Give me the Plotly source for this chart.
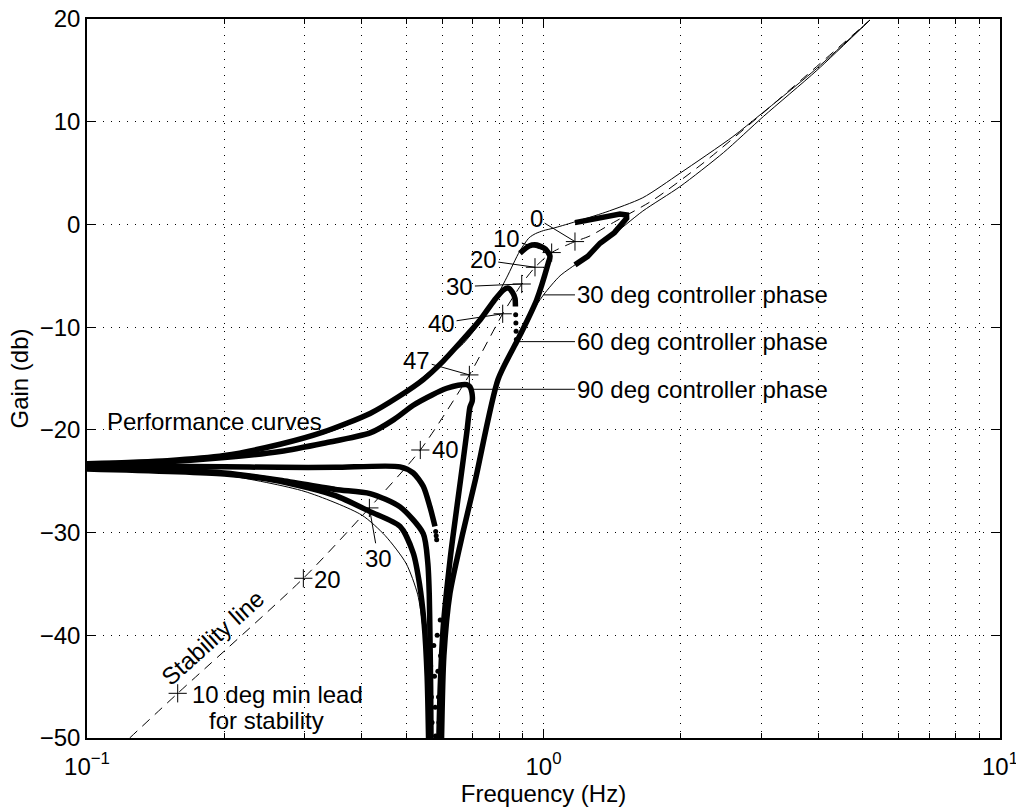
import math
import plotly.graph_objects as go

# ---------------- data (frequency in Hz, gain in dB) ----------------
thin_upper_f = [0.1, 0.15, 0.2, 0.25, 0.3, 0.35, 0.4, 0.45, 0.5, 0.55, 0.6, 0.667, 0.72, 0.77, 0.83, 0.887, 0.93, 0.96, 1.0, 1.05, 1.162, 1.37, 1.65, 1.99, 2.6, 2.98, 3.97, 5.19]
thin_upper_g = [-23.2, -22.9, -22.4, -21.7, -20.9, -20.0, -18.9, -17.6, -16.2, -14.7, -13.3, -11.6, -9.8, -7.9, -5.2, -2.6, -1.3, -0.9, -0.6, -0.37, 0.2, 1.2, 2.6, 4.98, 8.55, 10.66, 15.2, 19.9]

thin_lower_left_f = [0.1, 0.2, 0.3, 0.4, 0.45, 0.5, 0.53, 0.545, 0.553, 0.558]
thin_lower_left_g = [-23.4, -24.4, -26.0, -28.3, -30.3, -33.0, -36.0, -39.5, -44.0, -50.0]

thin_lower_right_f = [5.19, 3.97, 3.03, 2.48, 1.99, 1.65, 1.39, 1.293, 1.2, 1.087, 1.0, 0.93, 0.874]
thin_lower_right_g = [19.9, 15.0, 10.5, 7.0, 3.68, 1.3, -1.35, -2.3, -3.6, -5.0, -6.86, -9.0, -11.4]

stab_f = [0.124, 0.158, 0.2978, 0.4155, 0.5372, 0.688, 0.814, 0.896, 0.958, 1.042, 1.172, 1.264, 1.422, 1.74, 2.236, 3.026, 5.19]
stab_g = [-50.0, -45.65, -34.45, -27.6, -21.96, -14.65, -8.7, -5.8, -4.17, -2.74, -1.67, -1.12, 0.18, 2.39, 5.96, 10.85, 19.9]

mark_f = [0.158, 0.2978, 0.4155, 0.5372, 0.688, 0.814, 0.896, 0.958, 1.042, 1.172]
mark_g = [-45.65, -34.45, -27.6, -21.96, -14.65, -8.7, -5.8, -4.17, -2.74, -1.67]

# thick performance curves
c60_f = [0.1, 0.15, 0.2, 0.2648, 0.33, 0.417, 0.48, 0.5452, 0.6, 0.66, 0.726, 0.78, 0.817, 0.838, 0.855, 0.866, 0.868]
c60_g = [-23.3, -23.0, -22.5, -21.4, -20.2, -18.4, -16.8, -15.1, -13.4, -11.4, -9.3, -7.4, -6.38, -6.2, -6.6, -7.2, -8.0]
c60_tail_f = [0.869, 0.870, 0.871, 0.872]
c60_tail_g = [-8.8, -9.6, -10.4, -11.2]

c90_f = [0.1, 0.15, 0.2, 0.2648, 0.33, 0.417, 0.47, 0.5185, 0.57, 0.614, 0.65, 0.679, 0.69, 0.697, 0.698, 0.69, 0.679, 0.658, 0.635, 0.624, 0.603, 0.594, 0.59]
c90_g = [-23.35, -23.1, -22.7, -22.1, -21.3, -20.3, -19.0, -17.6, -16.6, -15.95, -15.65, -15.6, -15.8, -16.4, -17.2, -17.8, -20.3, -24.9, -30.0, -32.7, -39.2, -45.0, -50.0]

c30_f = [0.888, 0.93, 0.968, 1.01, 1.033, 1.024, 0.966, 0.896, 0.874, 0.795, 0.709, 0.666, 0.624, 0.605, 0.598]
c30_g = [-2.8, -2.1, -2.0, -2.4, -3.1, -3.78, -7.35, -10.45, -11.4, -15.1, -24.9, -30.0, -35.9, -42.0, -50.0]

c0_f = [1.172, 1.33, 1.47, 1.52, 1.521, 1.43, 1.33, 1.25, 1.172]
c0_g = [0.18, 0.6, 1.02, 0.92, 0.6, -0.8, -1.83, -3.1, -3.94]

flat_f = [0.1, 0.2, 0.2648, 0.35, 0.485, 0.5185, 0.5452, 0.564, 0.5785]
flat_g = [-23.5, -23.6, -23.65, -23.65, -23.6, -24.2, -25.5, -27.5, -29.4]
flat_tail_f = [0.5805, 0.582, 0.5834]
flat_tail_g = [-29.9, -30.3, -30.7]

low1_f = [0.1, 0.2, 0.2648, 0.35, 0.417, 0.485, 0.5452, 0.558, 0.562, 0.564, 0.566, 0.567]
low1_g = [-23.6, -24.2, -24.9, -25.8, -26.2, -27.5, -30.1, -33.0, -36.0, -40.0, -45.0, -50.0]

low2_f = [0.1, 0.2, 0.2648, 0.35, 0.417, 0.485, 0.5185, 0.535, 0.548, 0.556, 0.56]
low2_g = [-23.8, -24.3, -25.0, -26.4, -27.96, -29.4, -32.0, -35.0, -39.0, -44.0, -50.0]

dip_f = [0.556, 0.558, 0.560, 0.561, 0.566, 0.568, 0.570, 0.575, 0.577, 0.579, 0.580, 0.585, 0.587, 0.589, 0.590, 0.594, 0.595, 0.596, 0.597]
dip_g = [-42.0, -44.5, -47.0, -49.5, -43.0, -46.0, -48.5, -41.0, -44.0, -47.0, -49.8, -40.0, -43.5, -46.0, -48.5, -38.5, -42.0, -45.0, -49.0]

# marker labels: (text, text_f, text_g, marker_f, marker_g)
lead_labels = [
    ("0", 0.966, 0.6, 1.172, -1.67),
    ("10", 0.831, -1.34, 1.042, -2.74),
    ("20", 0.738, -3.46, 0.958, -4.17),
    ("30", 0.656, -6.06, 0.896, -5.8),
    ("40", 0.598, -9.6, 0.814, -8.7),
    ("47", 0.5275, -13.2, 0.688, -14.65),
    ("30", 0.4346, -32.5, 0.4155, -27.6),
]
plain_labels = [
    ("40", 0.611, -21.96),
    ("20", 0.3363, -34.6),
]
phase_labels = ["30 deg controller phase", "60 deg controller phase", "90 deg controller phase"]
phase_text_f = [1.172, 1.172, 1.172]
phase_tip_f = [1.0, 0.874, 0.690]
phase_g = [-6.86, -11.41, -16.05]

x_tick_vals = [0.1, 1, 10]
x_tick_text = ["10<sup>\u22121</sup>", "10<sup>0</sup>", "10<sup>1</sup>"]

FONT = "Liberation Sans, Arial, Helvetica, sans-serif"
FS = 24

fig = go.Figure()

def line(f, g, w, dash=None, shape="spline"):
    fig.add_trace(go.Scatter(x=f, y=g, mode="lines", showlegend=False, hoverinfo="skip",
                             line=dict(color="black", width=w, dash=dash, shape=shape,
                                       smoothing=0.7 if shape == "spline" else None)))

def dots(f, g, s):
    fig.add_trace(go.Scatter(x=f, y=g, mode="markers", showlegend=False, hoverinfo="skip",
                             marker=dict(color="black", size=s)))

line(thin_upper_f, thin_upper_g, 1)
line(thin_lower_left_f, thin_lower_left_g, 1)
line(thin_lower_right_f, thin_lower_right_g, 1)
line(stab_f, stab_g, 1, dash="10px,7px")

for f, g in [(c60_f, c60_g), (c90_f, c90_g), (c30_f, c30_g),
             (flat_f, flat_g), (low1_f, low1_g), (low2_f, low2_g)]:
    line(f, g, 5.5)
line(c0_f, c0_g, 5.5, shape="linear")
dots(c60_tail_f, c60_tail_g, 5)
dots(flat_tail_f, flat_tail_g, 5)
dots(dip_f, dip_g, 5)

fig.add_trace(go.Scatter(x=mark_f, y=mark_g, mode="markers", showlegend=False, hoverinfo="skip",
                         marker=dict(symbol="cross-thin", size=13, line=dict(color="black", width=1))))

tfont = dict(family=FONT, size=FS, color="black")
ann = []
for txt, tf, tg, mf, mg in lead_labels:
    ann.append(dict(text=txt, x=math.log10(mf), y=mg, ax=math.log10(tf), ay=tg,
                    axref="x", ayref="y", xref="x", yref="y", showarrow=True,
                    arrowhead=0, arrowwidth=1, arrowcolor="black", standoff=0, font=tfont))
for txt, tf, tg in plain_labels:
    ann.append(dict(text=txt, x=math.log10(tf), y=tg, xref="x", yref="y", showarrow=False, font=tfont))
for txt, tf, tip, g in zip(phase_labels, phase_text_f, phase_tip_f, phase_g):
    ann.append(dict(text=txt, x=math.log10(tip), y=g, ax=math.log10(tf), ay=g,
                    axref="x", ayref="y", xref="x", yref="y", showarrow=True,
                    arrowhead=0, arrowwidth=1, arrowcolor="black", standoff=0,
                    xanchor="left", font=tfont))
ann.append(dict(text="Performance curves", x=math.log10(0.1095), y=-19.2, xref="x", yref="y",
                xanchor="left", showarrow=False, font=tfont))
ann.append(dict(text="Stability line", x=math.log10(0.1888), y=-40.26, xref="x", yref="y",
                textangle=-42, showarrow=False, font=tfont))
ann.append(dict(text="10 deg min lead", x=math.log10(0.168), y=-45.8, xref="x", yref="y",
                xanchor="left", showarrow=False, font=tfont))
ann.append(dict(text="for stability", x=math.log10(0.1832), y=-48.25, xref="x", yref="y",
                xanchor="left", showarrow=False, font=tfont))

grid = dict(gridcolor="black", griddash="1px,7px", gridwidth=1)
fig.update_layout(
    width=1016, height=808,
    margin=dict(l=87, r=16, t=19, b=70),
    paper_bgcolor="white", plot_bgcolor="white",
    font=tfont,
    annotations=ann,
    xaxis=dict(type="log", range=[-1.00001, 1.00001], tickvals=x_tick_vals, ticktext=x_tick_text,
               showgrid=True, **grid,
               ticks="inside", ticklen=9, tickcolor="black", showline=True, linecolor="black",
               linewidth=1.5, mirror="ticks", zeroline=False, automargin=False,
               ticklabelstandoff=6, ticklabeloverflow="allow",
               minor=dict(dtick="D1", showgrid=True, ticks="inside", ticklen=5, tickcolor="black", **grid),
               title=dict(text="Frequency (Hz)", standoff=4, font=tfont),
               tickfont=tfont),
    yaxis=dict(range=[-50, 20], dtick=10, showgrid=True, **grid,
               ticks="inside", ticklen=9, tickcolor="black", showline=True, linecolor="black",
               linewidth=1.5, mirror="ticks", zeroline=False, automargin=False,
               ticklabeloverflow="allow",
               title=dict(text="Gain (db)", standoff=4, font=tfont),
               tickfont=tfont),
)

fig.write_html("out.html")
